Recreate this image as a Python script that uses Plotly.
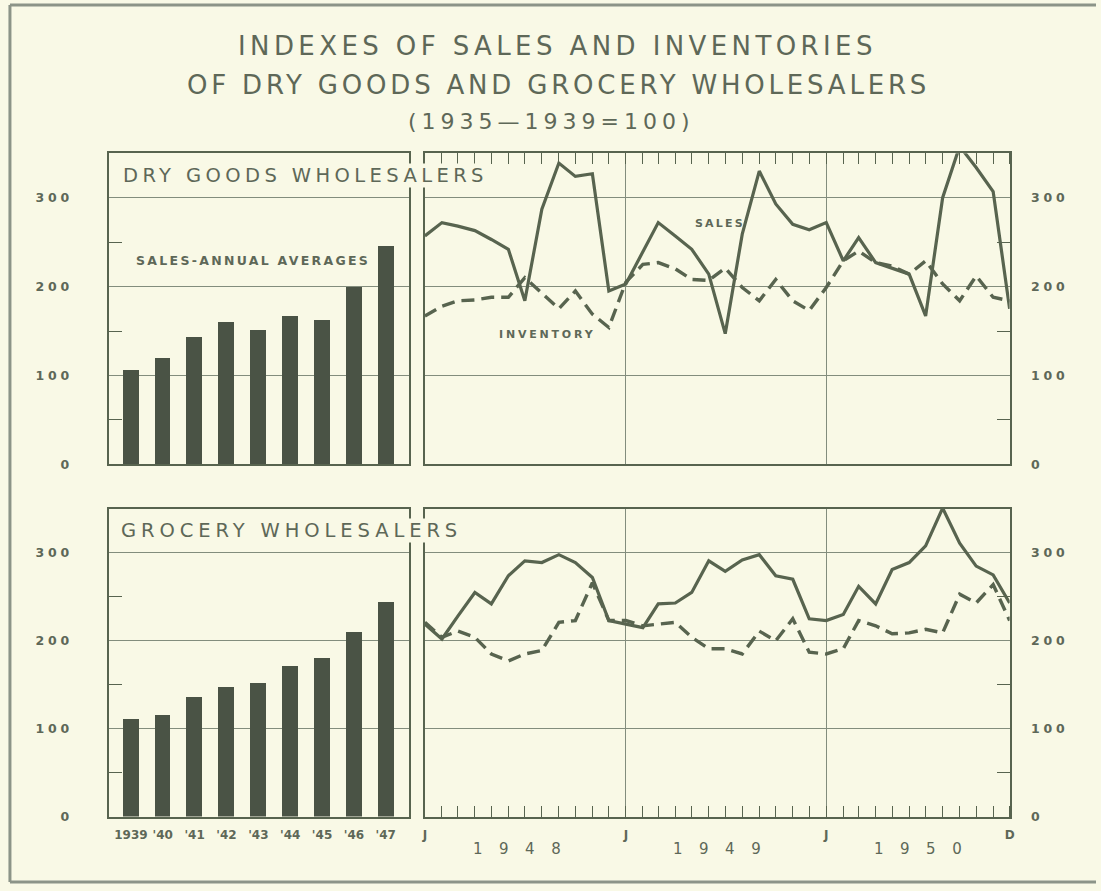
import plotly.graph_objects as go

# ---------------- data ----------------
YEARS = ["1939", "'40", "'41", "'42", "'43", "'44", "'45", "'46", "'47"]
DRY_ANNUAL = [106, 119, 143, 160, 151, 167, 162, 199, 245]
GROCERY_ANNUAL = [111, 116, 136, 147, 152, 171, 180, 210, 244]

MONTHS = [f"{y}-{m:02d}-01" for y in (1948, 1949, 1950) for m in range(1, 13)]

DRY_SALES = [257, 272, 268, 263, 253, 242, 184, 287, 339, 324, 327, 195,
             203, 240, 272, 257, 242, 214, 147, 259, 330, 293, 270, 264,
             272, 229, 255, 227, 221, 214, 167, 300, 358, 334, 307, 175]
DRY_INV = [167, 178, 184, 185, 188, 188, 210, 192, 175, 195, 169, 154,
           205, 225, 227, 220, 208, 207, 221, 199, 184, 208, 184, 173,
           199, 229, 240, 227, 223, 214, 229, 203, 184, 212, 188, 184]

GRO_SALES = [219, 202, 228, 255, 242, 274, 291, 289, 298, 289, 272, 223,
             219, 215, 242, 243, 255, 291, 279, 292, 298, 274, 270, 225,
             223, 230, 262, 242, 281, 289, 308, 351, 311, 285, 275, 243]
GRO_INV = [221, 204, 211, 204, 185, 177, 185, 189, 221, 223, 266, 223,
           223, 217, 219, 221, 204, 191, 191, 185, 211, 200, 225, 187,
           185, 191, 223, 217, 208, 209, 213, 209, 253, 243, 264, 223]

Y_TICKS = [0, 100, 200, 300]
Y_MINOR = [50, 150, 250]
MONTH_TICKS = ["1948-01-01", "1949-01-01", "1950-01-01", "1950-12-01"]
MONTH_TICKTEXT = ["J", "J", "J", "D"]
YEAR_LABELS = ["1948", "1949", "1950"]
YEAR_MID = ["1948-07-01", "1949-07-01", "1950-07-01"]

# ---------------- style ----------------
W, H = 1101, 891
BG = "#f9f9e6"
INK = "#58644f"
BAR = "#4a5345"
GRID = "#838d7d"
TXT = "#5e6858"
FONT = "DejaVu Sans"


def px_x(p):
    return p / W


def px_y(p):
    return 1 - p / H


def spaced(t, sp):
    return f'<span style="letter-spacing:{sp}px">{t}</span>'


LEFT = [px_x(107), px_x(409)]
RIGHT = [px_x(425), px_x(1014)]
TOP = [px_y(468), px_y(154.5)]
BOT = [px_y(823), px_y(513)]

fig = go.Figure()

# bars
fig.add_trace(go.Bar(x=YEARS, y=DRY_ANNUAL, width=0.5, marker_color=BAR,
                     marker_line_width=0, xaxis="x", yaxis="y", showlegend=False))
fig.add_trace(go.Bar(x=YEARS, y=GROCERY_ANNUAL, width=0.5, marker_color=BAR,
                     marker_line_width=0, xaxis="x3", yaxis="y3", showlegend=False))

# lines
fig.add_trace(go.Scatter(x=MONTHS, y=DRY_SALES, mode="lines",
                         line=dict(color=INK, width=3.2), xaxis="x2", yaxis="y2",
                         showlegend=False))
fig.add_trace(go.Scatter(x=MONTHS, y=DRY_INV, mode="lines",
                         line=dict(color=INK, width=3.4, dash="13px,7px"),
                         xaxis="x2", yaxis="y2", showlegend=False))
fig.add_trace(go.Scatter(x=MONTHS, y=GRO_SALES, mode="lines",
                         line=dict(color=INK, width=3.2), xaxis="x4", yaxis="y4",
                         showlegend=False))
fig.add_trace(go.Scatter(x=MONTHS, y=GRO_INV, mode="lines",
                         line=dict(color=INK, width=3.4, dash="13px,7px"),
                         xaxis="x4", yaxis="y4", showlegend=False))

tick_font = dict(family=FONT, size=12.5, color=TXT, weight="bold")
y_tick_text = [spaced(str(v), 3.8) for v in Y_TICKS]

common_line = dict(showline=True, linecolor=INK, linewidth=1.6, mirror=True,
                   zeroline=False)


def bar_x(domain, anchor, show_labels):
    return dict(domain=domain, anchor=anchor, type="category",
                range=[-0.68, 8.73], showgrid=False, ticks="",
                showticklabels=show_labels, tickfont=dict(family=FONT, size=12,
                                                          color=TXT, weight="bold"),
                ticklabelstandoff=6, **common_line)


def y_left(domain, anchor):
    return dict(domain=domain, anchor=anchor, range=[0, 350],
                tickvals=Y_TICKS, ticktext=y_tick_text, tickfont=tick_font,
                ticklabelstandoff=32, ticks="", showgrid=True,
                gridcolor=GRID, gridwidth=1.2,
                minor=dict(tickvals=Y_MINOR, ticks="inside", ticklen=13,
                           tickcolor=INK, tickwidth=1.3, showgrid=False),
                **common_line)


def y_right(domain, anchor):
    return dict(domain=domain, anchor=anchor, range=[0, 350], side="right",
                tickvals=Y_TICKS, ticktext=y_tick_text, tickfont=tick_font,
                ticklabelstandoff=17, ticks="", showgrid=True,
                gridcolor=GRID, gridwidth=1.2,
                minor=dict(tickvals=Y_MINOR, ticks="inside", ticklen=13,
                           tickcolor=INK, tickwidth=1.3, showgrid=False),
                **common_line)


def month_x(domain, anchor, side, show_labels):
    return dict(domain=domain, anchor=anchor, type="date", side=side,
                range=["1948-01-01", "1950-12-01"],
                tickvals=MONTH_TICKS, ticktext=MONTH_TICKTEXT,
                showticklabels=show_labels, tickfont=dict(family=FONT, size=12,
                                                          color=TXT, weight="bold"),
                ticklabelstandoff=6, ticks="", showgrid=True,
                gridcolor=GRID, gridwidth=1.2,
                minor=dict(dtick="M1", tick0="1948-01-01", ticks="inside",
                           ticklen=11, tickcolor=INK, tickwidth=1.3,
                           showgrid=False),
                **common_line)


fig.update_layout(
    width=W, height=H,
    margin=dict(l=0, r=0, t=0, b=0),
    paper_bgcolor=BG, plot_bgcolor=BG,
    bargap=0,
    xaxis=bar_x(LEFT, "y", False),
    yaxis=y_left(TOP, "x"),
    xaxis2=month_x(RIGHT, "y2", "top", False),
    yaxis2=y_right(TOP, "x2"),
    xaxis3=bar_x(LEFT, "y3", True),
    yaxis3=y_left(BOT, "x3"),
    xaxis4=month_x(RIGHT, "y4", "bottom", True),
    yaxis4=y_right(BOT, "x4"),
)

title_font = dict(family=FONT, size=26, color=TXT)
annotations = [
    dict(text=spaced("INDEXES OF SALES AND INVENTORIES", 4.4), x=px_x(559),
         y=px_y(46), xref="paper", yref="paper", xanchor="center",
         yanchor="middle", showarrow=False, font=title_font),
    dict(text=spaced("OF DRY GOODS AND GROCERY WHOLESALERS", 3.8), x=px_x(560),
         y=px_y(86), xref="paper", yref="paper", xanchor="center",
         yanchor="middle", showarrow=False, font=title_font),
    dict(text=spaced("(1935—1939=100)", 5), x=px_x(553), y=px_y(122),
         xref="paper", yref="paper", xanchor="center", yanchor="middle",
         showarrow=False, font=dict(family=FONT, size=22, color=TXT)),
    dict(text=spaced("DRY GOODS WHOLESALERS", 4.4), x=px_x(120), y=325,
         xref="paper", yref="y", xanchor="left", yanchor="middle",
         showarrow=False, bgcolor=BG, borderpad=0,
         font=dict(family=FONT, size=19.5, color=TXT)),
    dict(text=spaced("GROCERY WHOLESALERS", 4.9), x=px_x(118), y=325,
         xref="paper", yref="y3", xanchor="left", yanchor="middle",
         showarrow=False, bgcolor=BG, borderpad=0,
         font=dict(family=FONT, size=19.5, color=TXT)),
    dict(text=spaced("SALES-ANNUAL AVERAGES", 2.3), x=px_x(252), y=229,
         xref="paper", yref="y", xanchor="center", yanchor="middle",
         showarrow=False, bgcolor=BG, borderpad=1,
         font=dict(family=FONT, size=12.5, color=TXT, weight="bold")),
    dict(text=spaced("SALES", 2.2), x="1949-06-22", y=271, xref="x2", yref="y2",
         xanchor="center", yanchor="middle", showarrow=False,
         font=dict(family=FONT, size=11, color=TXT, weight="bold")),
    dict(text=spaced("INVENTORY", 2.8), x="1948-08-10", y=146, xref="x2",
         yref="y2", xanchor="center", yanchor="middle", showarrow=False,
         font=dict(family=FONT, size=11, color=TXT, weight="bold")),
]
for lab, mid in zip(YEAR_LABELS, YEAR_MID):
    annotations.append(dict(text=spaced(lab, 16.5), x=mid, y=px_y(856),
                            xref="x4", yref="paper", xanchor="center",
                            yanchor="middle", showarrow=False,
                            font=dict(family=FONT, size=15, color=TXT)))
fig.update_layout(annotations=annotations)

# page frame (left, top, bottom edges)
frame = dict(color="#8c9488", width=3)
fig.add_shape(type="line", xref="paper", yref="paper", x0=px_x(7), x1=px_x(7),
              y0=px_y(889), y1=px_y(5), line=frame, layer="below")
fig.add_shape(type="line", xref="paper", yref="paper", x0=px_x(7), x1=1,
              y0=px_y(5), y1=px_y(5), line=frame, layer="below")
fig.add_shape(type="line", xref="paper", yref="paper", x0=px_x(7), x1=1,
              y0=px_y(889), y1=px_y(889), line=frame, layer="below")

fig.write_html("out.html", config={"displayModeBar": False},
               post_script="document.body.style.margin='0px';"
                           "document.documentElement.style.overflow='hidden';")
